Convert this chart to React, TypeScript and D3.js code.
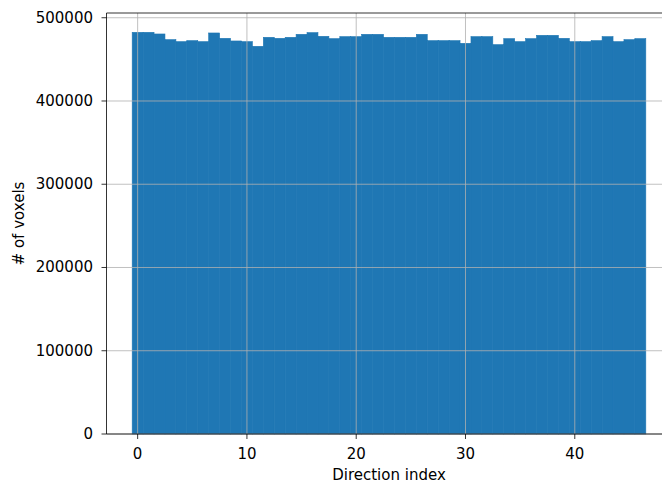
import React from "react";
import * as d3 from "d3";

const directions: number[] = Array.from({ length: 47 }, (_, i) => i);
const counts: number[] = [
  482500, 482500, 480500, 473700, 471300, 472500, 471300, 481700, 475300, 472100,
  471300, 465700, 476500, 475300, 476500, 480100, 482100, 477700, 474900, 477300,
  477300, 480100, 480100, 476500, 476500, 476500, 480100, 472500, 472500, 472500,
  469300, 477300, 477300, 467700, 474900, 471300, 474900, 478900, 478900, 475300,
  471300, 471300, 472500, 477300, 471300, 473700, 474900,
];
const xTicks: number[] = [0, 10, 20, 30, 40];
const yTicks: number[] = [0, 100000, 200000, 300000, 400000, 500000];

const W = 662;
const H = 483;
const left = 106.5;
const right = 671.5;
const top = 13;
const bottom = 434;
const font = "'DejaVu Sans', sans-serif";

export default function App() {
  const x = d3.scaleLinear().domain([-2.85, 48.85]).range([left, right]);
  const y = d3.scaleLinear().domain([0, 505700]).range([bottom, top]);
  const gridColor = "#b0b0b0";
  return (
    <svg
      width={W}
      height={H}
      style={{ position: "absolute", left: 0, top: 0, background: "#fff" }}
      fontFamily={font}
    >
      <rect x={0} y={0} width={W} height={H} fill="#fff" />
      {directions.map((d, i) => (
        <rect
          key={d}
          x={x(d - 0.5)}
          y={y(counts[i])}
          width={x(d + 0.5) - x(d - 0.5)}
          height={bottom - y(counts[i])}
          fill="#1f77b4"
          stroke="#1f77b4"
          strokeWidth={0.6}
        />
      ))}
      {xTicks.map((t) => (
        <line key={"gx" + t} x1={x(t)} x2={x(t)} y1={top} y2={bottom} stroke={gridColor} strokeWidth={0.8} />
      ))}
      {yTicks.map((t) => (
        <line key={"gy" + t} x1={left} x2={right} y1={y(t)} y2={y(t)} stroke={gridColor} strokeWidth={0.8} />
      ))}
      <line x1={left} x2={left} y1={top} y2={bottom} stroke="#000" strokeWidth={0.8} />
      <line x1={left} x2={right} y1={bottom} y2={bottom} stroke="#000" strokeWidth={0.8} />
      <line x1={left} x2={right} y1={top} y2={top} stroke="#000" strokeWidth={0.8} />
      <line x1={right} x2={right} y1={top} y2={bottom} stroke="#000" strokeWidth={0.8} />
      {xTicks.map((t) => (
        <g key={"tx" + t}>
          <line x1={x(t)} x2={x(t)} y1={bottom} y2={bottom + 5} stroke="#000" strokeWidth={0.8} />
          <text x={x(t)} y={bottom + 19.5} fontSize={15} textAnchor="middle" dominantBaseline="central" fill="#000">
            {t}
          </text>
        </g>
      ))}
      {yTicks.map((t) => (
        <g key={"ty" + t}>
          <line x1={left - 5} x2={left} y1={y(t)} y2={y(t)} stroke="#000" strokeWidth={0.8} />
          <text x={left - 13.5} y={y(t)} fontSize={15} textAnchor="end" dominantBaseline="central" fill="#000">
            {t}
          </text>
        </g>
      ))}
      <text x={(left + right) / 2} y={474.5} fontSize={15} textAnchor="middle" dominantBaseline="central" fill="#000">
        Direction index
      </text>
      <text
        transform={`translate(18.5, ${(top + bottom) / 2}) rotate(-90)`}
        fontSize={15}
        textAnchor="middle"
        dominantBaseline="central"
        fill="#000"
      >
        # of voxels
      </text>
    </svg>
  );
}
